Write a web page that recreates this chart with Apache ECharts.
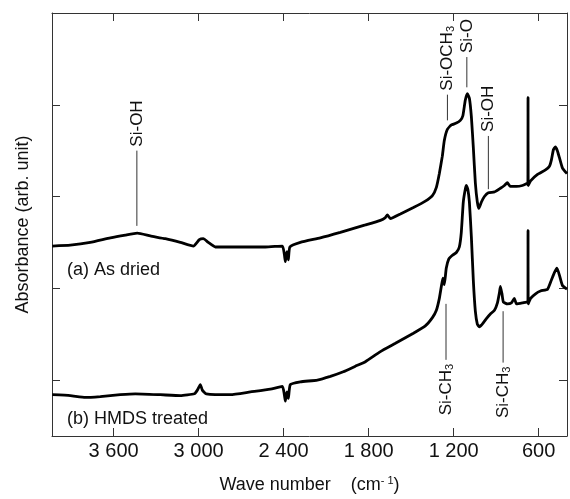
<!DOCTYPE html>
<html>
<head>
<meta charset="utf-8">
<script src="https://cdn.jsdelivr.net/npm/echarts@6/dist/echarts.min.js"></script>
<style>
html,body{margin:0;padding:0;background:#fff;}
#chart{width:570px;height:499px;}
</style>
</head>
<body>
<div id="chart"></div>
<script>
// spectrum (a) as dried
var waveA = [4033, 3906, 3765, 3623, 3517, 3433, 3341, 3235, 3129, 3037, 2995, 2967, 2932, 2882, 2706, 2529, 2409, 2395, 2388, 2377,
    2367, 2356, 2282, 2141, 2000, 1823, 1717, 1682, 1668, 1647, 1576, 1484, 1400, 1350, 1322, 1301, 1280, 1266, 1245, 1216,
    1181, 1153, 1135, 1118, 1103, 1089, 1075, 1061, 1047, 1033, 1022, 1004, 983, 955, 912, 870, 842, 821, 800, 757,
    715, 687, 676, 675, 674, 657, 608, 552, 524, 510, 496, 482, 468, 453, 432, 400];
var absA = [1.46, 1.47, 1.50, 1.55, 1.58, 1.60, 1.57, 1.54, 1.50, 1.46, 1.53, 1.54, 1.50, 1.45, 1.45, 1.45, 1.46, 1.37, 1.29, 1.40,
    1.31, 1.45, 1.50, 1.55, 1.61, 1.69, 1.74, 1.77, 1.80, 1.76, 1.81, 1.88, 1.95, 2.01, 2.10, 2.25, 2.44, 2.61, 2.73, 2.78,
    2.80, 2.83, 2.88, 3.05, 3.12, 3.07, 2.87, 2.53, 2.15, 1.94, 1.87, 1.94, 2.00, 2.04, 2.05, 2.09, 2.12, 2.15, 2.11, 2.11,
    2.12, 2.14, 2.15, 3.08, 2.12, 2.17, 2.24, 2.29, 2.33, 2.40, 2.51, 2.54, 2.50, 2.42, 2.31, 2.25];
// spectrum (b) HMDS treated
var waveB = [4033, 3906, 3800, 3694, 3553, 3447, 3270, 3129, 3030, 3009, 2988, 2974, 2946, 2776, 2635, 2494, 2409, 2395, 2388, 2377,
    2367, 2353, 2282, 2162, 2070, 1979, 1894, 1823, 1717, 1611, 1484, 1400, 1350, 1322, 1301, 1287, 1276, 1266, 1252, 1234,
    1209, 1181, 1160, 1146, 1132, 1118, 1110, 1100, 1089, 1075, 1061, 1047, 1033, 1019, 998, 969, 941, 912, 891, 877,
    870, 859, 849, 821, 793, 772, 757, 715, 687, 676, 675, 674, 657, 622, 587, 537, 510, 489, 471, 453,
    432, 400];
var absB = [-0.16, -0.17, -0.19, -0.18, -0.16, -0.15, -0.16, -0.17, -0.15, -0.11, -0.05, -0.11, -0.15, -0.16, -0.13, -0.10, -0.07, -0.16, -0.23, -0.13,
    -0.20, -0.05, -0.02, 0.00, 0.04, 0.09, 0.15, 0.20, 0.31, 0.40, 0.51, 0.59, 0.68, 0.76, 0.89, 1.02, 1.11, 1.04, 1.22, 1.32,
    1.36, 1.39, 1.45, 1.61, 1.94, 2.08, 2.12, 2.08, 1.94, 1.56, 1.08, 0.75, 0.61, 0.58, 0.61, 0.67, 0.72, 0.76, 0.84, 0.95,
    1.02, 0.94, 0.85, 0.83, 0.84, 0.89, 0.83, 0.84, 0.85, 0.85, 1.63, 0.83, 0.89, 0.94, 0.97, 0.99, 1.09, 1.17, 1.22, 1.14,
    1.03, 0.99];

// peak assignments: wave number, leader line from / to (absorbance)
var peakNames = ['Si-OH', 'Si-OCH{s|3}', 'Si-O', 'Si-OH', 'Si-CH{s|3}', 'Si-CH{s|3}'];
var peakWave = [3436, 1244, 1107, 955, 1254, 851];
var lineFrom = [1.68, 2.83, 3.19, 2.08, 0.83, 0.75];
var lineTo = [2.50, 3.11, 3.52, 2.66, 0.22, 0.19];

var sampleNames = ['(a) As dried', '(b) HMDS treated'];
var sampleWave = [3929, 3929];
var sampleAbs = [1.20, -0.42];

var xTicks = [3600, 3000, 2400, 1800, 1200, 600];
var yTicks = [0, 1, 2, 3];

var FONT = '"Liberation Sans", Arial, Helvetica, sans-serif';

function pairs(xs, ys) {
    var out = [];
    for (var i = 0; i < xs.length; i++) out.push([xs[i], ys[i]]);
    return out;
}
function fmtWave(v) {
    if (v < 1000) return String(v);
    var r = String(v % 1000);
    while (r.length < 3) r = '0' + r;
    return Math.floor(v / 1000) + ' ' + r;
}

var peakData = [];
for (var i = 0; i < peakWave.length; i++) peakData.push([peakWave[i], lineFrom[i], lineTo[i]]);
var sampleData = pairs(sampleWave, sampleAbs);

var tickStyle = {show: true, inside: true, length: 8, lineStyle: {color: '#333', width: 1}};
var lineStyle = {show: true, onZero: false, lineStyle: {color: '#333', width: 1}};

var chart = echarts.init(document.getElementById('chart'));
chart.setOption({
    animation: false,
    backgroundColor: '#fff',
    grid: {left: 52, right: 3, top: 13, bottom: 57},
    xAxis: [{
        type: 'value', inverse: true, min: 400, max: 4035,
        axisLine: lineStyle,
        axisTick: Object.assign({customValues: xTicks}, tickStyle),
        axisLabel: {customValues: xTicks, formatter: fmtWave, margin: 5, fontSize: 20, fontFamily: FONT, color: '#111'},
        splitLine: {show: false},
        name: 'Wave number    (cm{sup|- 1})', nameLocation: 'middle', nameGap: 39,
        nameTextStyle: {fontSize: 18, fontFamily: FONT, color: '#111',
            rich: {sup: {fontSize: 11, fontFamily: FONT, color: '#111', padding: [0, 0, 9, 0]}}}
    }, {
        type: 'value', inverse: true, min: 400, max: 4035, position: 'top',
        axisLine: lineStyle,
        axisTick: Object.assign({customValues: xTicks}, tickStyle),
        axisLabel: {show: false}, splitLine: {show: false}
    }],
    yAxis: [{
        type: 'value', min: -0.61, max: 4,
        axisLine: lineStyle,
        axisTick: Object.assign({customValues: yTicks}, tickStyle),
        axisLabel: {show: false}, splitLine: {show: false},
        name: 'Absorbance (arb. unit)', nameLocation: 'middle', nameGap: 20,
        nameTextStyle: {fontSize: 18, fontFamily: FONT, color: '#111'}
    }, {
        type: 'value', min: -0.61, max: 4, position: 'right',
        axisLine: lineStyle,
        axisTick: Object.assign({customValues: yTicks}, tickStyle),
        axisLabel: {show: false}, splitLine: {show: false}
    }],
    series: [{
        name: '(a) As dried', type: 'line', showSymbol: false, smooth: 0.15,
        data: pairs(waveA, absA),
        lineStyle: {color: '#000', width: 2.8}
    }, {
        name: '(b) HMDS treated', type: 'line', showSymbol: false, smooth: 0.15,
        data: pairs(waveB, absB),
        lineStyle: {color: '#000', width: 2.8}
    }, {
        type: 'custom', clip: false, silent: true,
        data: peakData,
        renderItem: function (params, api) {
            var wn = api.value(0);
            var p1 = api.coord([wn, api.value(1)]);
            var p2 = api.coord([wn, api.value(2)]);
            var up = p2[1] < p1[1];
            return {
                type: 'group',
                children: [{
                    type: 'line',
                    shape: {x1: p1[0], y1: p1[1], x2: p2[0], y2: p2[1]},
                    style: {stroke: '#333', lineWidth: 1}
                }, {
                    type: 'text',
                    x: p2[0], y: p2[1] + (up ? -4 : 4),
                    rotation: Math.PI / 2,
                    style: {
                        text: peakNames[params.dataIndex],
                        fontSize: 17, fontFamily: FONT, fill: '#111',
                        align: up ? 'left' : 'right', verticalAlign: 'middle',
                        rich: {s: {fontSize: 11, fontFamily: FONT, fill: '#111', padding: [8, 0, 0, 0]}}
                    }
                }]
            };
        }
    }, {
        type: 'custom', clip: false, silent: true,
        data: sampleData,
        renderItem: function (params, api) {
            var p = api.coord([api.value(0), api.value(1)]);
            return {
                type: 'text', x: p[0], y: p[1],
                style: {
                    text: sampleNames[params.dataIndex],
                    fontSize: 18, fontFamily: FONT, fill: '#111',
                    align: 'left', verticalAlign: 'middle'
                }
            };
        }
    }]
});
</script>
</body>
</html>
